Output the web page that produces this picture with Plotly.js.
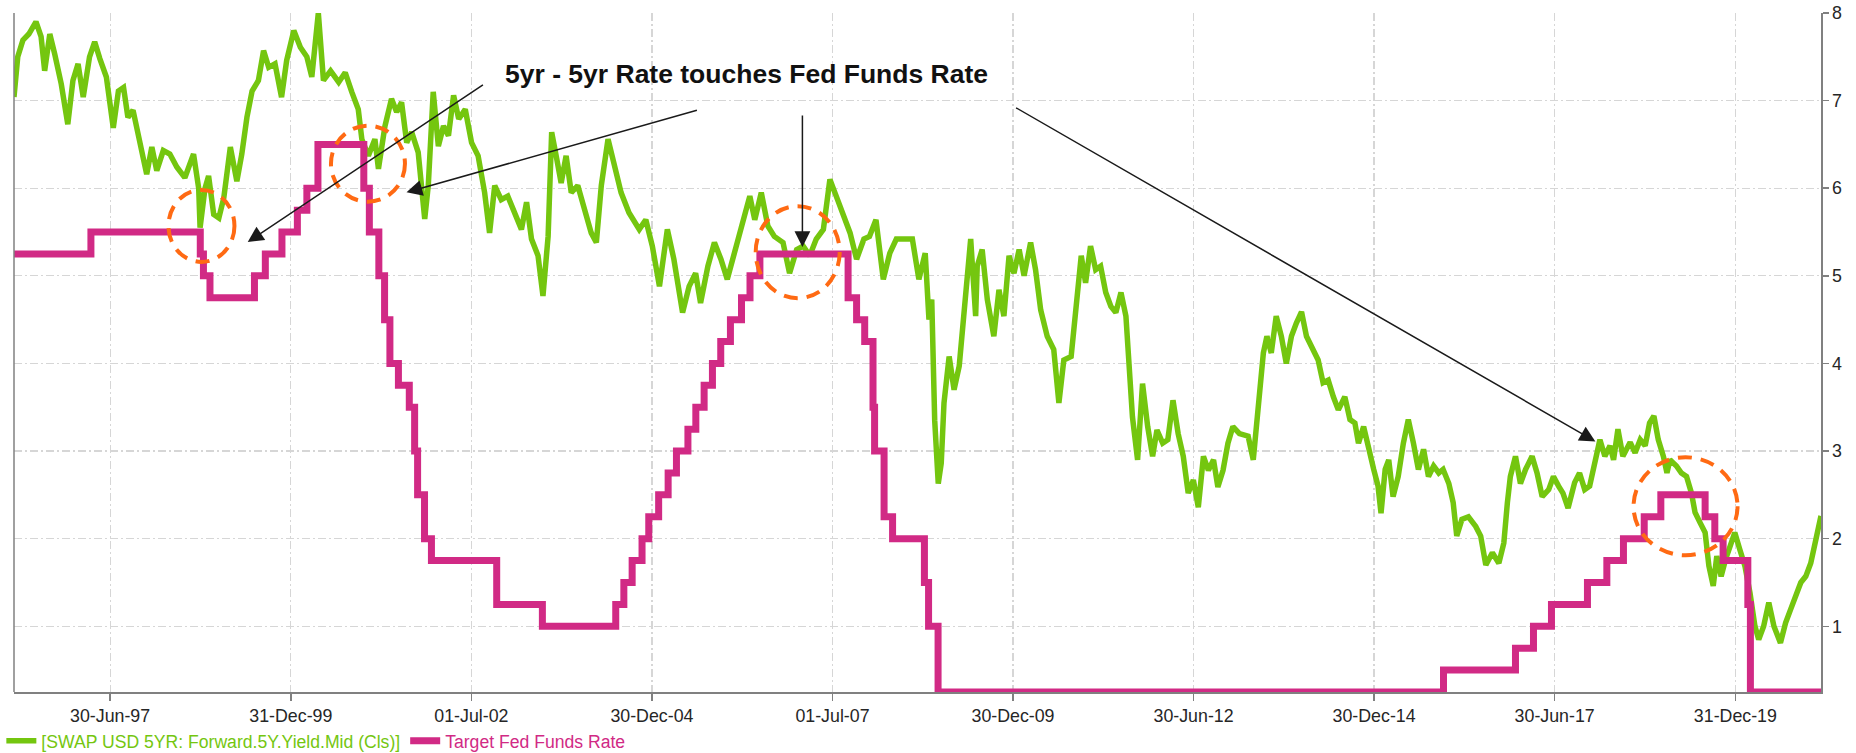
<!DOCTYPE html>
<html>
<head>
<meta charset="utf-8">
<script src="https://cdn.plot.ly/plotly-3.0.1.min.js"></script>
<style>html,body{margin:0;padding:0;background:#fff;}#chart{width:1856px;height:753px;}</style>
</head>
<body>
<div id="chart"></div>
<script>
// ---- Data ----
const swapName = '[SWAP USD 5YR: Forward.5Y.Yield.Mid (Cls)]';
const fedName = 'Target Fed Funds Rate';

const swapDates = [
'1996-03-01','1996-03-20','1996-04-15','1996-05-15','1996-06-20','1996-07-16','1996-08-03','1996-08-29','1996-09-23','1996-10-26','1996-11-28','1996-12-24',
'1997-01-19','1997-02-14','1997-03-18','1997-04-13','1997-05-09','1997-06-11','1997-07-16','1997-08-11','1997-09-06','1997-09-28','1997-10-24','1997-11-29',
'1998-01-01','1998-01-27','1998-02-21','1998-03-26','1998-04-28','1998-06-03','1998-07-13','1998-08-26','1998-09-21','1998-09-28','1998-10-23','1998-11-10','1998-12-06',
'1999-01-01','1999-01-26','1999-02-28','1999-04-02','1999-04-27','1999-05-23','1999-06-18','1999-07-20','1999-08-15','1999-09-10','1999-10-12','1999-11-14','1999-12-10',
'2000-01-15','2000-02-17','2000-03-21','2000-04-15','2000-05-18','2000-06-13','2000-07-19','2000-08-29','2000-10-01','2000-11-03','2000-12-06','2000-12-24',
'2001-01-26','2001-02-28','2001-03-18','2001-04-20','2001-05-23','2001-06-18','2001-07-13','2001-08-08','2001-09-02','2001-10-05','2001-11-07','2001-11-25','2001-12-20',
'2002-01-15','2002-02-10','2002-03-07','2002-04-02','2002-04-28','2002-05-31','2002-07-02','2002-08-04','2002-09-06','2002-10-01','2002-10-27','2002-11-29',
'2003-01-01','2003-02-06','2003-03-11','2003-04-06','2003-05-01','2003-06-03','2003-06-28','2003-07-24','2003-08-11','2003-09-06','2003-09-28','2003-10-23','2003-11-18','2003-12-21',
'2004-01-26','2004-02-27','2004-03-24','2004-04-18','2004-05-22','2004-06-24','2004-07-27','2004-09-05','2004-10-27','2004-11-29',
'2005-01-01','2005-02-06','2005-03-18','2005-04-20','2005-06-03','2005-07-06','2005-08-08','2005-09-02','2005-10-09','2005-11-11','2005-12-14',
'2006-01-15','2006-02-21','2006-04-02','2006-05-09','2006-06-03','2006-07-06','2006-08-08','2006-09-10','2006-10-24','2006-11-26',
'2007-01-01','2007-02-03','2007-03-08','2007-04-10','2007-05-16','2007-06-18','2007-07-20','2007-08-26','2007-09-28','2007-10-31','2007-12-07',
'2008-01-04','2008-02-06','2008-03-14','2008-04-16','2008-05-19','2008-06-21','2008-08-08','2008-09-10','2008-10-12','2008-10-31','2008-11-14','2008-11-29','2008-12-17',
'2009-01-01','2009-01-15','2009-02-10','2009-03-07','2009-04-02','2009-04-16','2009-05-12','2009-05-30','2009-06-24','2009-07-02','2009-07-27','2009-08-22','2009-09-24','2009-10-20','2009-11-14','2009-12-10',
'2010-01-04','2010-01-30','2010-02-24','2010-03-29','2010-04-23','2010-05-19','2010-06-21','2010-07-24','2010-08-19','2010-09-13','2010-10-20','2010-11-14','2010-12-10',
'2011-01-01','2011-01-26','2011-02-21','2011-03-18','2011-04-13','2011-05-09','2011-06-03','2011-06-29','2011-07-24','2011-08-11','2011-08-26','2011-09-21','2011-10-16','2011-11-11','2011-12-06','2011-12-28',
'2012-01-26','2012-02-21','2012-03-18','2012-04-13','2012-05-09','2012-06-03','2012-06-29','2012-07-24','2012-08-19','2012-09-13','2012-10-09','2012-10-31','2012-11-26','2012-12-21',
'2013-01-15','2013-02-17','2013-03-14','2013-04-02','2013-04-28','2013-05-23','2013-06-18','2013-07-06','2013-07-28','2013-08-22','2013-09-17','2013-10-12','2013-11-07','2013-12-02','2013-12-28',
'2014-01-22','2014-02-17','2014-03-22','2014-04-16','2014-05-12','2014-06-07','2014-07-02','2014-08-04','2014-08-30','2014-09-24','2014-10-12','2014-11-07','2014-12-02','2014-12-28',
'2015-01-19','2015-02-03','2015-02-24','2015-03-14','2015-04-05','2015-05-01','2015-05-27','2015-06-21','2015-07-17','2015-08-11','2015-09-06','2015-10-01','2015-10-27','2015-11-22','2015-12-14',
'2016-01-12','2016-02-03','2016-02-21','2016-03-18','2016-04-20','2016-05-27','2016-06-21','2016-07-17','2016-08-19','2016-09-21','2016-10-16','2016-11-03','2016-11-18','2016-12-14',
'2017-01-08','2017-02-03','2017-03-08','2017-04-02','2017-04-28','2017-05-31','2017-06-24','2017-07-20','2017-08-11','2017-09-06','2017-10-09','2017-11-03','2017-11-29','2017-12-24',
'2018-01-19','2018-02-14','2018-03-11','2018-04-06','2018-04-24','2018-05-16','2018-06-10','2018-07-17','2018-08-11','2018-09-06','2018-10-01','2018-10-23','2018-11-14','2018-12-06',
'2019-01-01','2019-01-19','2019-02-03','2019-03-08','2019-04-02','2019-04-28','2019-05-23','2019-06-10','2019-07-06','2019-07-31','2019-08-19','2019-09-10','2019-09-28','2019-10-20','2019-11-11','2019-12-06','2019-12-28',
'2020-01-22','2020-02-17','2020-03-14','2020-04-08','2020-04-27','2020-05-22','2020-06-17','2020-07-13','2020-08-15','2020-09-10','2020-10-05','2020-10-31','2020-11-26','2020-12-21',
'2021-01-15','2021-02-10','2021-03-08'
];
const swapValues = [
7.04,7.50,7.69,7.76,7.90,7.73,7.34,7.76,7.53,7.19,6.73,7.23,
7.42,7.04,7.50,7.67,7.48,7.27,6.69,7.11,7.15,6.81,6.89,6.54,
6.16,6.47,6.20,6.43,6.39,6.24,6.12,6.39,6.00,5.55,6.00,6.14,5.70,
5.66,5.89,6.47,6.08,6.39,6.81,7.11,7.23,7.57,7.38,7.42,7.04,7.46,
7.80,7.61,7.50,7.27,8.00,7.23,7.34,7.21,7.32,7.10,6.90,6.56,
6.37,6.56,6.22,6.71,7.02,6.87,6.98,6.52,6.64,6.41,5.65,6.03,7.10,
6.48,6.71,6.60,7.06,6.79,6.90,6.52,6.37,5.95,5.49,6.03,5.87,
5.91,5.72,5.53,5.84,5.42,5.23,4.77,5.45,6.64,6.33,6.06,6.37,5.95,6.03,
5.72,5.49,5.38,6.03,6.56,6.26,5.95,5.72,5.53,5.64,
5.34,4.88,5.53,5.19,4.58,4.88,5.03,4.69,5.11,5.38,5.19,
4.96,5.26,5.64,5.91,5.64,5.95,5.57,5.45,5.38,5.03,
5.30,5.34,5.23,5.42,5.53,6.10,5.91,5.68,5.49,5.19,5.42,
5.45,5.64,4.96,5.26,5.42,5.42,5.42,4.96,5.26,4.50,4.73,3.35,2.63,
2.86,3.55,4.08,3.70,3.97,4.31,4.92,5.42,4.54,5.11,5.30,4.73,4.31,4.84,4.54,5.23,
5.03,5.30,5.00,5.38,5.07,4.61,4.31,4.16,3.55,4.04,4.08,4.61,5.23,
4.92,5.34,5.07,5.11,4.81,4.65,4.58,4.81,4.54,3.77,3.39,2.90,3.77,3.28,2.94,3.24,
3.09,3.13,3.58,3.20,2.94,2.52,2.67,2.36,2.94,2.78,2.90,2.59,2.78,3.09,
3.28,3.20,3.18,3.17,2.90,3.55,4.12,4.31,4.12,4.54,4.31,4.00,4.31,4.46,4.59,
4.31,4.19,4.04,3.78,3.81,3.62,3.47,3.62,3.36,3.32,3.09,3.28,3.02,2.79,
2.60,2.29,2.79,2.90,2.48,2.71,3.09,3.36,3.09,2.79,3.02,2.71,2.83,2.75,2.79,
2.63,2.41,2.03,2.22,2.25,2.14,2.03,1.70,1.84,1.72,1.95,2.41,2.71,2.94,
2.63,2.79,2.94,2.75,2.48,2.56,2.71,2.60,2.52,2.35,2.64,2.75,2.56,2.60,
2.87,3.13,2.94,3.06,2.90,3.25,2.94,3.10,2.98,3.13,3.06,3.32,3.40,3.13,
2.94,2.75,2.90,2.83,2.75,2.71,2.52,2.30,2.18,2.07,1.69,1.46,1.80,1.57,1.76,1.95,2.07,
1.88,1.69,1.38,1.00,0.85,1.00,1.27,1.00,0.81,1.04,1.19,1.34,1.50,1.57,
1.72,1.99,2.26
];

const fedDates = [
'1996-03-01','1997-03-25','1998-09-29','1998-10-15','1998-11-17','1999-06-30','1999-08-24','1999-11-16',
'2000-02-02','2000-03-21','2000-05-16','2001-01-03','2001-01-31','2001-03-20','2001-04-18','2001-05-15',
'2001-06-27','2001-08-21','2001-09-17','2001-10-02','2001-11-06','2001-12-11','2002-11-06','2003-06-25',
'2004-06-30','2004-08-10','2004-09-21','2004-11-10','2004-12-14','2005-02-02','2005-03-22','2005-05-03',
'2005-06-30','2005-08-09','2005-09-20','2005-11-01','2005-12-13','2006-01-31','2006-03-28','2006-05-10',
'2006-06-29','2007-09-18','2007-10-31','2007-12-11','2008-01-22','2008-01-30','2008-03-18','2008-04-30',
'2008-10-08','2008-10-29','2008-12-16','2015-12-16','2016-12-14','2017-03-15','2017-06-14','2017-12-13',
'2018-03-21','2018-06-13','2018-09-26','2018-12-19','2019-07-31','2019-09-18','2019-10-30','2020-03-03',
'2020-03-16','2021-03-08'
];
const fedValues = [
5.25,5.50,5.25,5.00,4.75,5.00,5.25,5.50,
5.75,6.00,6.50,6.00,5.50,5.00,4.50,4.00,
3.75,3.50,3.00,2.50,2.00,1.75,1.25,1.00,
1.25,1.50,1.75,2.00,2.25,2.50,2.75,3.00,
3.25,3.50,3.75,4.00,4.25,4.50,4.75,5.00,
5.25,4.75,4.50,4.25,3.50,3.00,2.25,2.00,
1.50,1.00,0.25,0.50,0.75,1.00,1.25,1.50,
1.75,2.00,2.25,2.50,2.25,2.00,1.75,1.25,
0.25,0.25
];

const tickDates = ['1997-06-30','1999-12-31','2002-07-01','2004-12-30','2007-07-01','2009-12-30','2012-06-30','2014-12-30','2017-06-30','2019-12-31'];
const tickLabels = ['30-Jun-97','31-Dec-99','01-Jul-02','30-Dec-04','01-Jul-07','30-Dec-09','30-Jun-12','30-Dec-14','30-Jun-17','31-Dec-19'];
const yTicks = [1,2,3,4,5,6,7,8];

const noteText = '5yr - 5yr Rate touches Fed Funds Rate';

// ---- Styling ----
const GREEN = '#74C60F';
const MAGENTA = '#D12A85';
const ORANGE = '#FF6A13';
const FONT = 'Liberation Sans, Arial, Helvetica, sans-serif';
const GRID = '#d6d6d6';
const AXIS = '#808080';

const traces = [
  {type:'scatter', mode:'lines', x:swapDates, y:swapValues, name:'<span style="color:'+GREEN+'">'+swapName+'</span>',
   line:{color:GREEN, width:5.5}, hoverinfo:'skip'},
  {type:'scatter', mode:'lines', x:fedDates, y:fedValues, name:'<span style="color:'+MAGENTA+'">'+fedName+'</span>',
   line:{color:MAGENTA, width:7, shape:'hv'}, hoverinfo:'skip'}
];

// touch-point ellipses: center in data space, radii in pixels
const rings = [
  {x:'1998-10-05', y:5.57, rx:33, ry:36},
  {x:'2001-01-24', y:6.28, rx:37, ry:38},
  {x:'2007-01-06', y:5.27, rx:42, ry:46},
  {x:'2019-04-23', y:2.37, rx:52, ry:49}
];
const shapes = rings.map(r => ({
  type:'circle', xref:'x', yref:'y', xsizemode:'pixel', ysizemode:'pixel',
  xanchor:r.x, yanchor:r.y, x0:-r.rx, x1:r.rx, y0:-r.ry, y1:r.ry,
  line:{color:ORANGE, width:4, dash:'14px,9px'}, fillcolor:'rgba(0,0,0,0)', layer:'above'
}));
shapes.push({type:'line', xref:'paper', yref:'paper', x0:0, x1:0, y0:0, y1:1, line:{color:AXIS, width:1.5}});

const arrows = [
  {x:'1999-05-27', y:5.385, ax:'2002-09-05', ay:7.19},
  {x:'2001-08-07', y:5.953, ax:'2005-08-22', ay:6.894},
  {x:'2007-01-30', y:5.33,  ax:'2007-01-30', ay:6.848},
  {x:'2018-01-22', y:3.11,  ax:'2010-01-07', ay:6.928}
];
const annotations = arrows.map(a => ({
  xref:'x', yref:'y', axref:'x', ayref:'y', x:a.x, y:a.y, ax:a.ax, ay:a.ay, text:'',
  showarrow:true, arrowhead:2, arrowsize:2.1, arrowwidth:1.5, arrowcolor:'#1a1a1a', standoff:0, startstandoff:0
}));
annotations.push({
  xref:'x', yref:'y', x:'2006-04-22', y:7.305, xanchor:'center', yanchor:'middle', showarrow:false,
  text:'<b>'+noteText+'</b>', font:{family:FONT, size:26.5, color:'#111111'}
});

const layout = {
  width:1856, height:753,
  margin:{l:14, r:35, t:13, b:61, pad:0, autoexpand:false},
  paper_bgcolor:'#ffffff', plot_bgcolor:'#ffffff',
  font:{family:FONT, size:17, color:'#2b2b2b'},
  showlegend:true,
  legend:{orientation:'h', x:-0.007, xanchor:'left', y:-0.072, yanchor:'middle',
          font:{family:FONT, size:17.6}, itemwidth:30, bgcolor:'rgba(0,0,0,0)', traceorder:'normal'},
  xaxis:{type:'date', range:['1996-03-01','2021-03-08'], tickmode:'array', tickvals:tickDates, ticktext:tickLabels,
         showgrid:true, gridcolor:GRID, gridwidth:1.2, griddash:'8px,3px,2px,3px',
         ticks:'outside', ticklen:7, tickwidth:1.5, tickcolor:AXIS,
         showline:true, linecolor:AXIS, linewidth:1.5, zeroline:false, automargin:false,
         tickfont:{family:FONT, size:17.8, color:'#262626'}, fixedrange:true},
  yaxis:{side:'right', range:[0.25, 8], tickmode:'array', tickvals:yTicks, ticktext:yTicks.map(String),
         showgrid:true, gridcolor:GRID, gridwidth:1.2, griddash:'8px,3px,2px,3px',
         ticks:'outside', ticklen:6, tickwidth:1.5, tickcolor:AXIS,
         showline:true, linecolor:AXIS, linewidth:1.5, zeroline:false, automargin:false,
         tickfont:{family:FONT, size:17.8, color:'#262626'}, fixedrange:true},
  shapes:shapes,
  annotations:annotations
};

Plotly.newPlot('chart', traces, layout, {displayModeBar:false, staticPlot:true});
</script>
</body>
</html>
